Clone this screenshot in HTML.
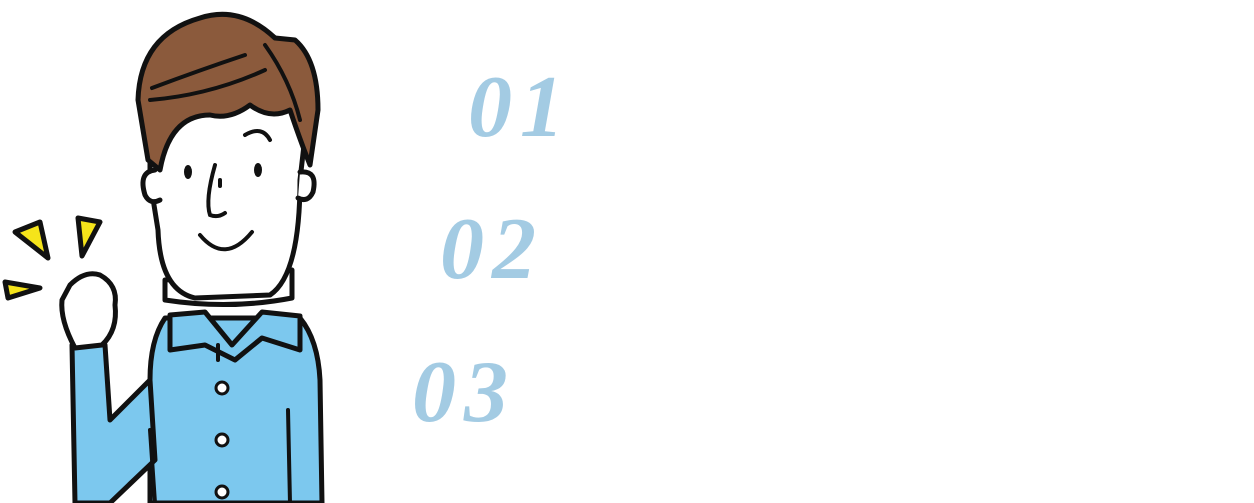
<!DOCTYPE html>
<html><head><meta charset="utf-8"><style>
html,body{margin:0;padding:0;background:#fff;}
body{width:1254px;height:503px;overflow:hidden;position:relative;}
.n{position:absolute;font-family:"Liberation Serif",serif;font-weight:bold;font-style:italic;font-size:88px;color:#a3cbe3;line-height:1;letter-spacing:8px;}
svg{position:absolute;left:0;top:0;}
</style></head><body>
<svg width="340" height="503" viewBox="0 0 340 503">
<g stroke="#111" stroke-width="5" stroke-linejoin="round" stroke-linecap="round">
<polygon points="15,232 40,222 48,258" fill="#f5e41a"/>
<polygon points="78,218 100,222 82,256" fill="#f5e41a"/>
<polygon points="5,282 40,288 8,298" fill="#f5e41a"/>
<path d="M165,318 L300,318 Q318,340 320,380 L322,503 L150,503 L150,470 Q140,430 150,380 Q150,340 165,318 Z" fill="#7cc8ee"/>
<path d="M72,345 L105,345 L110,420 L150,380 L155,460 L110,503 L75,503 Z" fill="#7cc8ee"/>
<path d="M70,285 Q85,270 100,275 Q118,285 115,305 Q118,330 102,345 L75,348 Q60,320 62,300 Z" fill="#fff"/>
<path d="M165,280 L165,300 Q230,310 292,298 L292,270 Z" fill="#fff"/>
<path d="M170,315 L205,312 L232,345 L262,312 L300,316 L300,350 L262,338 L235,360 L205,345 L170,350 Z" fill="#7cc8ee"/>
<path d="M150,90 Q150,25 225,20 Q305,30 308,110 L300,180 Q300,275 270,295 L195,298 Q160,290 158,230 L150,180 Z" fill="#fff"/>
<path d="M155,170 Q138,172 145,195 Q150,205 160,200" fill="#fff"/>
<path d="M300,172 Q318,170 313,192 Q308,203 298,198" fill="#fff"/>
<path d="M138,100 Q140,35 200,18 Q240,5 275,38 L295,40 Q318,60 318,110 L310,165 Q300,140 290,110 Q270,120 250,105 Q230,120 210,115 Q170,115 160,170 L148,160 Z" fill="#8b5a3c"/>
</g>
<g stroke="#111" stroke-width="4" fill="none" stroke-linecap="round">
<path d="M152,88 Q200,70 245,55"/>
<path d="M150,100 Q210,95 265,70"/>
<path d="M265,45 Q290,80 300,120"/>
<path d="M245,135 Q262,125 270,140"/>
<path d="M215,165 Q205,200 210,215 Q218,218 225,213"/>
<path d="M200,235 Q225,265 252,232"/>
<path d="M218,345 L218,360"/><path d="M288,410 L290,503"/><path d="M150,430 L155,503"/>
<path d="M220,180 L220,186"/>
</g>
<ellipse cx="188" cy="172" rx="4" ry="7" fill="#111"/>
<ellipse cx="258" cy="170" rx="4" ry="7" fill="#111"/>
<g fill="#fff" stroke="#111" stroke-width="3">
<circle cx="222" cy="388" r="6"/><circle cx="222" cy="440" r="6"/><circle cx="222" cy="492" r="6"/>
</g>
</svg>
<div class="n" style="left:468px;top:64px;">01</div>
<div class="n" style="left:440px;top:206px;">02</div>
<div class="n" style="left:412px;top:349px;">03</div>
</body></html>
